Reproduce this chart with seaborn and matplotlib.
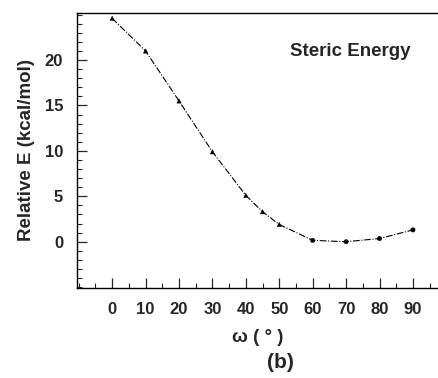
import matplotlib
matplotlib.use("Agg")
import matplotlib.pyplot as plt
from matplotlib.ticker import MultipleLocator
import seaborn as sns
import pandas as pd

omega = [0, 10, 20, 30, 40, 45, 50, 60, 70, 80, 90]
energy = [24.6, 21.0, 15.5, 9.9, 5.1, 3.3, 1.9, 0.15, 0.0, 0.35, 1.3]
marker_kind = ["tri", "tri", "tri", "tri", "tri", "tri", "tri", "dot", "dot", "dot", "dot"]
xtick_vals = [0, 10, 20, 30, 40, 50, 60, 70, 80, 90]
ytick_vals = [0, 5, 10, 15, 20]

df = pd.DataFrame({"omega": omega, "energy": energy, "kind": marker_kind})

sns.set_style("ticks")
plt.rcParams["font.family"] = ["Liberation Sans", "DejaVu Sans"]

fig = plt.figure(figsize=(4.38, 3.78), dpi=100)
ax = fig.add_axes([0.176, 0.238, 0.824, 0.728])

sns.lineplot(data=df, x="omega", y="energy", ax=ax, color="black",
             linewidth=0.8, linestyle=(0, (6, 1.5, 1, 1.5)), legend=False)
sns.scatterplot(data=df, x="omega", y="energy", style="kind",
                markers={"tri": "^", "dot": "o"}, ax=ax, color="black",
                s=10, edgecolor="black", linewidth=0.3, legend=False)

ax.set_xlim(-10.5, 97.5)
ax.set_ylim(-5.1, 25.2)
ax.set_xticks(xtick_vals)
ax.set_yticks(ytick_vals)
ax.xaxis.set_minor_locator(MultipleLocator(5))
ax.yaxis.set_minor_locator(MultipleLocator(1))
ax.tick_params(axis="both", which="major", direction="in", length=7, width=0.9,
               labelsize=12)
ax.tick_params(axis="both", which="minor", direction="in", length=3.5, width=0.8)
ax.tick_params(axis="x", pad=10)
ax.tick_params(axis="y", pad=10)
for lab in ax.get_xticklabels() + ax.get_yticklabels():
    lab.set_fontweight("bold")

for side in ["left", "bottom", "top"]:
    ax.spines[side].set_linewidth(1.0)
    ax.spines[side].set_color("black")
ax.spines["right"].set_visible(False)

ax.set_xlabel("ω ( ° )", fontsize=13.5, fontweight="bold", labelpad=9)
ax.set_ylabel("Relative E (kcal/mol)", fontsize=13.5, fontweight="bold", labelpad=7)

ax.text(0.925, 0.86, "Steric Energy", transform=ax.transAxes, ha="right",
        va="center", fontsize=13.5, fontweight="bold")
fig.text(0.64, 0.042, "(b)", ha="center", va="center", fontsize=15,
         fontweight="bold")

fig.savefig("out.png", dpi=100)
